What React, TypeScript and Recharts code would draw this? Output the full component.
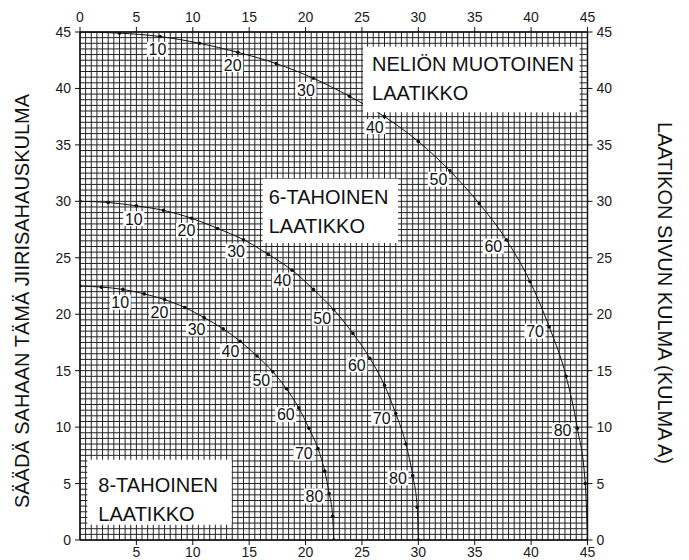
import { ComposedChart, Line, XAxis, YAxis, CartesianGrid, ReferenceArea, LabelList } from 'recharts';

const FONT = '"Liberation Sans", Arial, Helvetica, sans-serif';

// laatikon sivun kulma (kulma A), pisteet 5 asteen välein
const sideAngle = [0, 5, 10, 15, 20, 25, 30, 35, 40, 45, 50, 55, 60, 65, 70, 75, 80, 85, 90];

// neliön muotoinen laatikko
const squareBevel = [0, 3.5, 7.1, 10.6, 14.0, 17.4, 20.7, 23.9, 27.0, 30.0, 32.8, 35.4, 37.8, 39.9, 41.6, 43.1, 44.1, 44.8, 45];
const squareMiter = [45, 44.9, 44.6, 44.0, 43.2, 42.2, 40.9, 39.3, 37.5, 35.3, 32.7, 29.8, 26.6, 22.9, 18.9, 14.5, 9.9, 5.0, 0];

// 6-tahoinen laatikko
const hexBevel = [0, 2.5, 5.0, 7.4, 9.9, 12.2, 14.5, 16.7, 18.8, 20.7, 22.5, 24.2, 25.7, 27.0, 28.0, 28.9, 29.5, 29.9, 30];
const hexMiter = [30, 29.9, 29.6, 29.2, 28.5, 27.6, 26.6, 25.3, 23.9, 22.2, 20.4, 18.3, 16.1, 13.7, 11.2, 8.5, 5.7, 2.9, 0];

// 8-tahoinen laatikko
const octBevel = [0, 1.9, 3.8, 5.7, 7.5, 9.3, 11.0, 12.7, 14.2, 15.7, 17.1, 18.3, 19.4, 20.3, 21.1, 21.7, 22.1, 22.4, 22.5];
const octMiter = [22.5, 22.4, 22.2, 21.8, 21.3, 20.6, 19.7, 18.7, 17.6, 16.3, 14.9, 13.4, 11.7, 9.9, 8.1, 6.1, 4.1, 2.1, 0];

const axisTicks = [0, 5, 10, 15, 20, 25, 30, 35, 40, 45];
const bottomTicks = [5, 10, 15, 20, 25, 30, 35, 40, 45];

const boxes = [
  { x1: 25.1, x2: 44.3, y1: 37.9, y2: 43.7, lines: ['NELIÖN MUOTOINEN', 'LAATIKKO'], dx: 9, dy: 24 },
  { x1: 16.2, x2: 28.2, y1: 26.3, y2: 32.0, lines: ['6-TAHOINEN', 'LAATIKKO'], dx: 6, dy: 25 },
  { x1: 0.65, x2: 13.45, y1: 1.35, y2: 7.1, lines: ['8-TAHOINEN', 'LAATIKKO'], dx: 11, dy: 32 },
];

const toSeries = (bevel: number[], miter: number[]) =>
  sideAngle.map((a, i) => ({ a, x: bevel[i], y: miter[i] }));

const squareData = toSeries(squareBevel, squareMiter);
const hexData = toSeries(hexBevel, hexMiter);
const octData = toSeries(octBevel, octMiter);

// plot box in px
const W = 689;
const H = 560;
const LEFT = 80;
const TOP = 32;
const RIGHT_W = 101.5;
const BOTTOM_H = 20;
const plotW = W - LEFT - RIGHT_W;
const plotH = H - TOP - BOTTOM_H;
const gridX = Array.from({ length: 91 }, (_, i) => LEFT + (i * plotW) / 90);
const gridY = Array.from({ length: 91 }, (_, i) => TOP + (i * plotH) / 90);

const CurveLabel = (props: any) => {
  const { x, y, value } = props;
  if (value % 10 !== 0 || value === 0 || value === 90) return null;
  const rad = (value * Math.PI) / 180;
  const cx = x - 15 * Math.sin(rad);
  const cy = y + 13 * Math.cos(rad);
  return (
    <g>
      <rect x={cx - 10.5} y={cy - 7.5} width={21} height={15} fill="#fff" />
      <text x={cx} y={cy + 6} textAnchor="middle" fontSize={16} fill="#111" fontFamily={FONT}>
        {value}
      </text>
    </g>
  );
};

const boxLabel = (lines: string[], dx: number, dy: number) => (props: any) => {
  const vb = props.viewBox;
  return (
    <text fontSize={20} fill="#111" fontFamily={FONT}>
      {lines.map((t, i) => (
        <tspan key={i} x={vb.x + dx} y={vb.y + dy + i * 29}>
          {t}
        </tspan>
      ))}
    </text>
  );
};

const tickStyle = { fontSize: 14, fill: '#1a1a1a', fontFamily: FONT };
const axisLine = { stroke: '#111', strokeWidth: 1.5 };
const tickLine = { stroke: '#111' };

export default function App() {
  return (
    <div style={{ position: 'absolute', left: 0, top: 0, width: W, height: H, background: '#fff' }}>
      <ComposedChart width={W} height={H} margin={{ top: 0, right: 0, bottom: 0, left: 0 }} style={{ fontFamily: FONT }}>
        <CartesianGrid xAxisId="bottom" yAxisId="left" verticalPoints={gridX} horizontalPoints={gridY} stroke="#222" strokeWidth={1} />
        <XAxis
          xAxisId="top"
          orientation="top"
          dataKey="x"
          type="number"
          domain={[0, 45]}
          allowDataOverflow
          ticks={axisTicks}
          height={TOP}
          tickSize={5}
          tickMargin={5}
          tick={tickStyle}
          axisLine={axisLine}
          tickLine={tickLine}
        />
        <XAxis
          xAxisId="bottom"
          dataKey="x"
          type="number"
          domain={[0, 45]}
          allowDataOverflow
          ticks={bottomTicks}
          height={BOTTOM_H}
          tickSize={5}
          tickMargin={2}
          tick={tickStyle}
          axisLine={axisLine}
          tickLine={tickLine}
        />
        <YAxis
          yAxisId="left"
          type="number"
          domain={[0, 45]}
          allowDataOverflow
          ticks={axisTicks}
          width={LEFT}
          tickSize={5}
          tickMargin={4}
          tick={tickStyle}
          axisLine={axisLine}
          tickLine={tickLine}
          label={{
            content: (p: any) => {
              const vb = p.viewBox;
              const cy = vb.y + vb.height / 2 + 15;
              return (
                <text x={29} y={cy} transform={`rotate(-90 29 ${cy})`} textAnchor="middle" fontSize={20} fill="#111" fontFamily={FONT}>
                  SÄÄDÄ SAHAAN TÄMÄ JIIRISAHAUSKULMA
                </text>
              );
            },
          }}
        />
        <YAxis
          yAxisId="right"
          orientation="right"
          type="number"
          domain={[0, 45]}
          allowDataOverflow
          ticks={axisTicks}
          width={RIGHT_W}
          tickSize={5}
          tickMargin={4}
          tick={tickStyle}
          axisLine={axisLine}
          tickLine={tickLine}
          label={{
            content: (p: any) => {
              const vb = p.viewBox;
              const cy = vb.y + vb.height / 2 + 7;
              return (
                <text x={658} y={cy} transform={`rotate(90 658 ${cy})`} textAnchor="middle" fontSize={20} fill="#111" fontFamily={FONT}>
                  LAATIKON SIVUN KULMA (KULMA A)
                </text>
              );
            },
          }}
        />
        {/* invisible copy so the top / right axes have a series */}
        <Line
          xAxisId="top"
          yAxisId="right"
          data={squareData}
          dataKey="y"
          stroke="none"
          dot={false}
          activeDot={false}
          isAnimationActive={false}
        />
        {[squareData, hexData, octData].map((d, i) => (
          <Line
            key={i}
            xAxisId="bottom"
            yAxisId="left"
            data={d}
            dataKey="y"
            type="monotone"
            stroke="#111"
            strokeWidth={1}
            dot={{ r: 1.8, fill: '#111', stroke: 'none' }}
            activeDot={false}
            isAnimationActive={false}
          >
            <LabelList dataKey="a" content={CurveLabel} />
          </Line>
        ))}
        {boxes.map((b, i) => (
          <ReferenceArea
            key={i}
            xAxisId="bottom"
            yAxisId="left"
            x1={b.x1}
            x2={b.x2}
            y1={b.y1}
            y2={b.y2}
            fill="#fff"
            fillOpacity={1}
            stroke="none"
            zIndex={1500}
            label={{ content: boxLabel(b.lines, b.dx, b.dy) }}
          />
        ))}
      </ComposedChart>
    </div>
  );
}
